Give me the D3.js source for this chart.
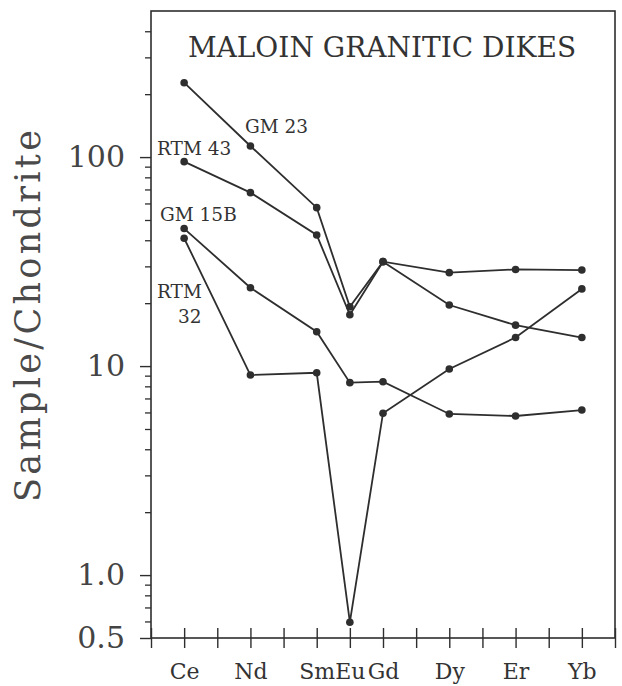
<!DOCTYPE html>
<html>
<head>
<meta charset="utf-8">
<script src="https://cdn.jsdelivr.net/npm/d3@7"></script>
<style>
  html, body { margin: 0; padding: 0; background: #fff; }
  svg { display: block; font-family: 'DejaVu Serif', serif; }
  .domain { display: none; }
</style>
</head>
<body>
<div id="chart"></div>
<script>
// REE pattern, chondrite normalised
const elements  = ['La','Ce','Pr','Nd','Pm','Sm','Eu','Gd','Tb','Dy','Ho','Er','Tm','Yb','Lu'];
const measured  = ['Ce','Nd','Sm','Eu','Gd','Dy','Er','Yb'];

const gm23  = [227, 113, 57.3, 19.2, 31.6, 28.0, 29.0, 28.8];
const rtm43 = [95.1, 67.6, 42.4, 17.6, 31.6, 19.6, 15.7, 13.7];
const gm15b = [45.5, 23.7, 14.6, 8.33, 8.42, 5.90, 5.77, 6.16];
const rtm32 = [40.9, 9.06, 9.29, 0.595, 5.95, 9.68, 13.7, 23.4];

const majorTicks = [0.5, 1, 10, 100];
const majorLabels = ['0.5', '1.0', '10', '100'];
const minorTicks = [0.6, 0.7, 0.8, 0.9, 2, 3, 4, 5, 6, 7, 8, 9,
                    20, 30, 40, 50, 60, 70, 80, 90, 200, 300, 400];

const ink = '#2e2e2e';
const W = 622, H = 686;
const x0 = 151, x1 = 615, y0 = 11, y1 = 638;

const svg = d3.select('#chart').append('svg')
  .attr('width', W).attr('height', H);

const x = d3.scalePoint().domain(elements).range([x0, x1]);
const y = d3.scaleLog().domain([0.5, 500]).range([y1, y0]);

// frame
svg.append('rect')
  .attr('x', x0).attr('y', y0)
  .attr('width', x1 - x0).attr('height', y1 - y0)
  .attr('fill', 'none').attr('stroke', ink).attr('stroke-width', 1.6);

// y axis, minor then major
svg.append('g')
  .attr('transform', `translate(${x0},0)`)
  .call(d3.axisLeft(y).tickValues(minorTicks).tickSize(6).tickFormat(''))
  .selectAll('line').attr('stroke', ink).attr('stroke-width', 1.3);

const yMajor = svg.append('g')
  .attr('transform', `translate(${x0},0)`)
  .call(d3.axisLeft(y).tickValues(majorTicks).tickSize(11).tickPadding(15)
    .tickFormat((d, i) => majorLabels[i]));
yMajor.selectAll('line').attr('stroke', ink).attr('stroke-width', 1.4);
yMajor.selectAll('text')
  .attr('fill', '#444').attr('font-size', 30)
  .attr('font-family', "'DejaVu Serif', serif");

// x axis, ticks cross the bottom line
const xAxis = svg.append('g')
  .attr('transform', `translate(0,${y1})`)
  .call(d3.axisBottom(x).tickSize(10)
    .tickFormat(d => measured.includes(d) ? d : ''));
xAxis.selectAll('line')
  .attr('y1', -10).attr('y2', 10)
  .attr('stroke', ink).attr('stroke-width', 1.4);
xAxis.selectAll('text')
  .attr('y', 41).attr('dy', null)
  .attr('fill', '#333').attr('font-size', 22)
  .attr('font-family', "'DejaVu Serif', serif");

// y label
svg.append('text')
  .attr('transform', 'translate(40,316) rotate(-90)')
  .attr('text-anchor', 'middle')
  .attr('font-size', 35)
  .attr('textLength', 372)
  .attr('fill', '#4a4a4a')
  .text('Sample/Chondrite');

// title
svg.append('text')
  .attr('x', 382).attr('y', 57)
  .attr('text-anchor', 'middle')
  .attr('font-size', 28)
  .attr('fill', '#333')
  .text('MALOIN GRANITIC DIKES');

// series
const series = [gm23, rtm43, gm15b, rtm32];
const line = d3.line()
  .x((d, i) => x(measured[i]))
  .y(d => y(d));

svg.append('g').selectAll('path')
  .data(series)
  .join('path')
  .attr('d', line)
  .attr('fill', 'none')
  .attr('stroke', ink)
  .attr('stroke-width', 1.8);

series.forEach(s => {
  svg.append('g').selectAll('circle')
    .data(s)
    .join('circle')
    .attr('cx', (d, i) => x(measured[i]))
    .attr('cy', d => y(d))
    .attr('r', 3.8)
    .attr('fill', ink);
});

// sample labels
const labels = [
  { t: 'GM 23',  x: 245, y: 133 },
  { t: 'RTM 43', x: 157, y: 155 },
  { t: 'GM 15B', x: 160, y: 221 },
  { t: 'RTM',    x: 157, y: 298 },
  { t: '32',     x: 178, y: 323 },
];
svg.append('g').selectAll('text')
  .data(labels)
  .join('text')
  .attr('x', d => d.x).attr('y', d => d.y)
  .attr('font-size', 18.5)
  .attr('fill', '#333')
  .text(d => d.t);
</script>
</body>
</html>
